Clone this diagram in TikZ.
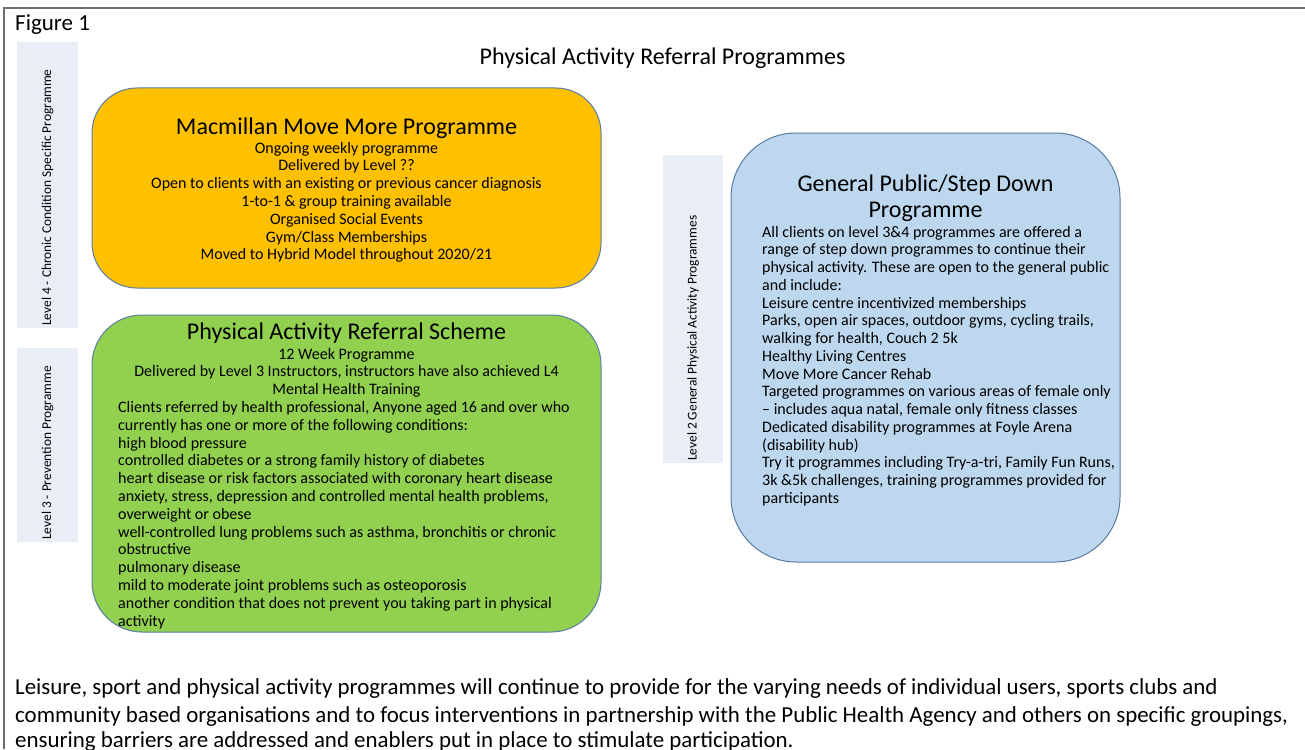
\documentclass[tikz,border=0pt]{standalone}
\usepackage{fontspec}
\setmainfont{Carlito}
\definecolor{framecol}{HTML}{6E6E6E}
\definecolor{boxline}{HTML}{5A7CA3}
\definecolor{barfill}{HTML}{E9EDF6}
\definecolor{orangefill}{HTML}{FFC000}
\definecolor{greenfill}{HTML}{92D050}
\definecolor{bluefill}{HTML}{BDD7EE}
\begin{document}
\begin{tikzpicture}[x=1pt,y=-1pt,
  progbox/.style={draw=boxline, line width=1pt, inner sep=0pt},
  levelbar/.style={fill=barfill, inner sep=0pt},
  bartext/.style={font=\fontsize{13.4}{15}\selectfont, rotate=90, anchor=west, inner sep=0pt},
  boxtitle/.style={font=\fontsize{24}{27}\selectfont, inner sep=0pt, anchor=base},
  bodyline/.style={font=\fontsize{16}{18}\selectfont, inner sep=0pt},
  caption/.style={font=\fontsize{22.9}{27}\selectfont, inner sep=0pt, anchor=base west},
]
\useasboundingbox (0,0) rectangle (1305,749);
\fill[white] (0,0) rectangle (1305,749);

% outer frame (top and left edges)
\coordinate (frameBL) at (4,749);
\coordinate (frameTL) at (4,8);
\coordinate (frameTR) at (1305,8);
\draw[framecol, line width=1.5pt] (frameBL) -- (frameTL) -- (frameTR);

\node[anchor=base west, inner sep=0pt, font=\fontsize{23}{27}\selectfont] (fig) at (15,31) {Figure 1};
\node[anchor=base, inner sep=0pt, font=\fontsize{24}{27}\selectfont] (title) at (662.5,65) {Physical Activity Referral Programmes};

% level bars
\node[levelbar, minimum width=61, minimum height=286] (bar4) at (47.5,185) {};
\node[levelbar, minimum width=61, minimum height=194] (bar3) at (47.5,445) {};
\node[levelbar, minimum width=60, minimum height=308] (bar2) at (693,309) {};
\node[bartext] (bar4t) at (47.5,326) {Level 4 - Chronic Condition Specific Programme};
\node[bartext] (bar3t) at (47.5,540) {Level 3 - Prevention Programme};
\node[bartext] (bar2t) at (693,461) {Level 2 General Physical Activity Programmes};

% programme boxes
\node[progbox, fill=orangefill, rounded corners=45, minimum width=509, minimum height=200] (mmm) at (346.5,188) {};
\node[progbox, fill=greenfill, rounded corners=50, minimum width=509, minimum height=317] (pars) at (346.5,473.5) {};
\node[progbox, fill=bluefill, rounded corners=65, minimum width=389, minimum height=429] (gps) at (925.5,347.5) {};

% Macmillan Move More
\node[boxtitle] (mmmT) at (346.5,134) {Macmillan Move More Programme};
\foreach \t [count=\i] in {
  {Ongoing weekly programme},
  {Delivered by Level ??},
  {Open to clients with an existing or previous cancer diagnosis},
  {1-to-1 \& group training available},
  {Organised Social Events},
  {Gym/Class Memberships},
  {Moved to Hybrid Model throughout 2020/21}}
  \node[bodyline, anchor=base] (mmm\i) at (346.5,{153+17.8*(\i-1)}) {\t};

% Physical Activity Referral Scheme
\node[boxtitle] (parsT) at (346.5,339) {Physical Activity Referral Scheme};
\foreach \t [count=\i] in {
  {12 Week Programme},
  {Delivered by Level 3 Instructors, instructors have also achieved L4},
  {Mental Health Training}}
  \node[bodyline, anchor=base] (parsc\i) at (346.5,{359+17.8*(\i-1)}) {\t};
\foreach \t [count=\i] in {
  {Clients referred by health professional, Anyone aged 16 and over who},
  {currently has one or more of the following conditions:},
  {high blood pressure},
  {controlled diabetes or a strong family history of diabetes},
  {heart disease or risk factors associated with coronary heart disease},
  {anxiety, stress, depression and controlled mental health problems,},
  {overweight or obese},
  {well-controlled lung problems such as asthma, bronchitis or chronic},
  {obstructive},
  {pulmonary disease},
  {mild to moderate joint problems such as osteoporosis},
  {another condition that does not prevent you taking part in physical},
  {activity}}
  \node[bodyline, anchor=base west] (parsl\i) at (118,{412.4+17.8*(\i-1)}) {\t};

% General Public / Step Down
\node[boxtitle] (gpsT1) at (925.5,191) {General Public/Step Down};
\node[boxtitle] (gpsT2) at (925.5,217) {Programme};
\foreach \t [count=\i] in {
  {All clients on level 3\&4 programmes are offered a},
  {range of step down programmes to continue their},
  {physical activity. These are open to the general public},
  {and include:},
  {Leisure centre incentivized memberships},
  {Parks, open air spaces, outdoor gyms, cycling trails,},
  {walking for health, Couch 2 5k},
  {Healthy Living Centres},
  {Move More Cancer Rehab},
  {Targeted programmes on various areas of female only},
  {– includes aqua natal, female only fitness classes},
  {Dedicated disability programmes at Foyle Arena},
  {(disability hub)},
  {Try it programmes including Try-a-tri, Family Fun Runs,},
  {3k \&5k challenges, training programmes provided for},
  {participants}}
  \node[bodyline, anchor=base west] (gps\i) at (762,{237+17.75*(\i-1)}) {\t};

% closing paragraph
\node[caption] (cap1) at (15,694) {Leisure, sport and physical activity programmes will continue to provide for the varying needs of individual users, sports clubs and};
\node[caption] (cap2) at (15,722) {community based organisations and to focus interventions in partnership with the Public Health Agency and others on specific groupings,};
\node[caption] (cap3) at (15,747.5) {ensuring barriers are addressed and enablers put in place to stimulate participation.};
\end{tikzpicture}
\end{document}
